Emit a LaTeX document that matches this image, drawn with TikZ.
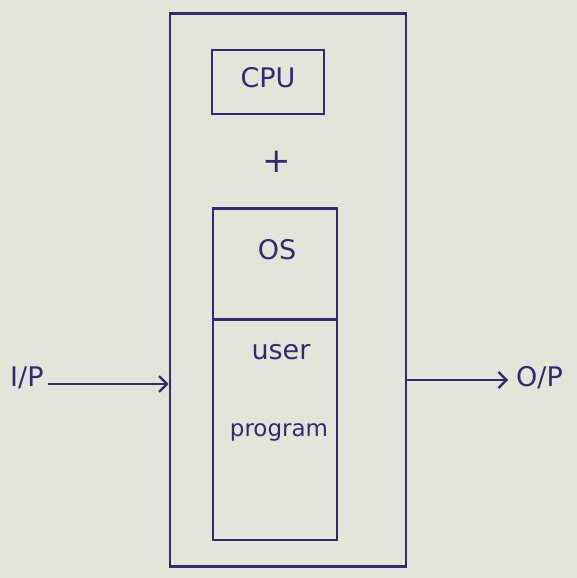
\documentclass[tikz,border=0pt]{standalone}
\usepackage{fontspec}
\setmainfont{DejaVu Sans}
\usetikzlibrary{arrows.meta}
\definecolor{ink}{RGB}{48,44,110}
\definecolor{paper}{RGB}{228,228,218}
\tikzset{
  box/.style={draw=ink, line width=2.8pt},
  lbl/.style={text=ink, font=\fontsize{27}{29}\selectfont, inner sep=0pt},
  arr/.style={draw=ink, line width=2.2pt, -{Straight Barb[length=8pt,width=16pt]}}
}
\begin{document}
\begin{tikzpicture}[x=1pt,y=-1pt]
\fill[paper] (0,0) rectangle (577,578);
\useasboundingbox (0,0) rectangle (577,578);
% outer system box
\node[box, minimum width=236pt, minimum height=553pt, inner sep=0pt] (sys) at (288,290) {};
% CPU
\node[box, minimum width=112pt, minimum height=64pt, inner sep=0pt] (cpu) at (268,82) {};
\node[lbl] (cputxt) at (268,78) {CPU};
\node[lbl, font=\fontsize{34}{36}\selectfont] (plus) at (277,162) {+};
% OS
\node[box, minimum width=124pt, minimum height=111pt, inner sep=0pt] (os) at (275,264) {};
\node[lbl] (ostxt) at (277,250) {OS};
% user program
\node[box, minimum width=124pt, minimum height=220pt, inner sep=0pt] (up) at (275,430) {};
\node[lbl] (usertxt) at (281,352) {user};
\node[lbl, font=\fontsize{23}{25}\selectfont] (progtxt) at (279,432) {program};
% input / output
\node[lbl, anchor=west] (ip) at (10,378) {I/P};
\node[lbl, anchor=west] (op) at (516,378) {O/P};
\draw[arr] (ip.east) ++(4,6) coordinate (ipstart) -- (ipstart -| sys.west);
\coordinate (opstart) at (sys.east |- 0,380);
\draw[arr] (opstart) -- ([xshift=-8pt]op.west |- opstart);
\end{tikzpicture}
\end{document}
